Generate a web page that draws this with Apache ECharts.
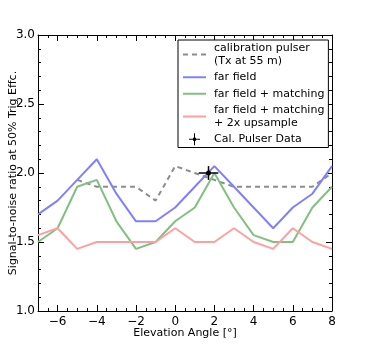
<!DOCTYPE html>
<html>
<head>
<meta charset="utf-8">
<script src="https://cdn.jsdelivr.net/npm/echarts@6/dist/echarts.min.js"></script>
<style>
html, body { margin: 0; padding: 0; background: #fff; }
#main { width: 370px; height: 346px; }
</style>
</head>
<body>
<div id="main"></div>
<script>
// elevation angles (deg) and SNR at 50% trigger efficiency
var angles = [-7, -6, -5, -4, -3, -2, -1, 0, 1, 2, 3, 4, 5, 6, 7, 8];
var farField = [1.7, 1.8, 1.95, 2.1, 1.85, 1.65, 1.65, 1.75, 1.9, 2.05, 1.9, 1.75, 1.6, 1.75, 1.85, 2.05];
var matching = [1.5, 1.6, 1.9, 1.95, 1.65, 1.45, 1.5, 1.65, 1.75, 2.0, 1.75, 1.55, 1.5, 1.5, 1.75, 1.9];
var upsample = [1.55, 1.6, 1.45, 1.5, 1.5, 1.5, 1.5, 1.6, 1.5, 1.5, 1.6, 1.5, 1.45, 1.6, 1.5, 1.45];

var calAngles = [-5, -4, -3, -2, -1, 0, 1, 2, 3, 4, 5, 6, 7, 8];
var calPulser = [1.95, 1.9, 1.9, 1.9, 1.8, 2.05, 2.0, 1.95, 1.9, 1.9, 1.9, 1.9, 1.9, 2.0];

// measured calibration pulser point with error bars
var dataAngle = [1.7];
var dataSnr = [2.0];
var dataAngleErr = [0.5];
var dataSnrErr = [0.05];

var xTicks = [-6, -4, -2, 0, 2, 4, 6, 8];

var names = [
    'calibration pulser\n(Tx at 55 m)',
    'far field',
    'far field + matching',
    'far field + matching\n+ 2x upsample',
    'Cal. Pulser Data'
];

function pairs(xs, ys) {
    return xs.map(function(x, i) { return [x, ys[i]]; });
}

var myChart = echarts.init(document.getElementById('main'));

var font = 'DejaVu Sans';
var black = '#000';

function majorX(pos, labels) {
    return {
        type: 'value', min: -7, max: 8, position: pos,
        axisLine: { show: true, onZero: false, lineStyle: { color: black, width: 1 } },
        splitLine: { show: false },
        axisTick: { show: true, inside: true, length: 6, customValues: xTicks, lineStyle: { color: black } },
        axisLabel: {
            show: labels, customValues: xTicks, color: black, fontSize: 12, fontFamily: font, margin: 5,
            formatter: function(v) { return v < 0 ? '\u2212' + (-v) : String(v); }
        },
        name: labels ? 'Elevation Angle [\u00b0]' : '',
        nameLocation: 'middle', nameGap: 17, nameMoveOverlap: false,
        nameTextStyle: { color: black, fontSize: 11, fontFamily: font, verticalAlign: 'top' }
    };
}
function minorX(pos) {
    return {
        type: 'value', min: -7, max: 8, interval: 0.5, position: pos,
        axisLine: { show: false },
        splitLine: { show: false },
        axisTick: { show: true, inside: true, length: 3, lineStyle: { color: black } },
        axisLabel: { show: false }
    };
}
function yAx(pos, labels) {
    return {
        type: 'value', min: 1, max: 3, interval: 0.5, position: pos,
        axisLine: { show: true, onZero: false, lineStyle: { color: black, width: 1 } },
        splitLine: { show: false },
        axisTick: { show: true, inside: true, length: 6, lineStyle: { color: black } },
        minorTick: { show: true, splitNumber: 5, length: 3, lineStyle: { color: black } },
        axisLabel: {
            show: labels, color: black, fontSize: 12, fontFamily: font, margin: 3,
            formatter: function(v) { return v.toFixed(1); }
        },
        name: labels ? 'Signal-to-noise ratio at 50% Trig Effc.' : '',
        nameLocation: 'middle', nameRotate: 90, nameGap: 19, nameMoveOverlap: false,
        nameTextStyle: { color: black, fontSize: 11, fontFamily: font }
    };
}

var option = {
    animation: false,
    backgroundColor: '#fff',
    grid: { left: 38, right: 38, top: 35, bottom: 35, outerBoundsMode: 'none', containLabel: false },
    legend: {
        orient: 'vertical', left: 178, top: 40,
        backgroundColor: '#fff', borderColor: black, borderWidth: 1, borderRadius: 0,
        padding: [2, 4, 2, 4], itemGap: 4, itemWidth: 23, itemHeight: 12,
        itemStyle: { opacity: 0 },
        textStyle: { color: black, fontSize: 11, fontFamily: font, lineHeight: 12.5, padding: [0, 0, 0, 3] },
        data: [
            { name: names[0] }, { name: names[1] }, { name: names[2] }, { name: names[3] },
            {
                name: names[4], itemStyle: { opacity: 1, color: black },
                icon: 'path://M0,5.5h11v1h-11z M5,0h1v12h-1z M4,4.5h3v3h-3z'
            }
        ]
    },
    xAxis: [majorX('bottom', true), minorX('bottom'), majorX('top', false), minorX('top')],
    yAxis: [yAx('left', true), yAx('right', false)],
    series: [
        {
            name: names[0], type: 'line', data: pairs(calAngles, calPulser), symbol: 'none',
            lineStyle: { color: '#8c8c8c', width: 2, type: [5, 4] }, itemStyle: { color: '#8c8c8c' }
        },
        {
            name: names[1], type: 'line', data: pairs(angles, farField), symbol: 'none',
            lineStyle: { color: '#8080ff', width: 2 }, itemStyle: { color: '#8080ff' }
        },
        {
            name: names[2], type: 'line', data: pairs(angles, matching), symbol: 'none',
            lineStyle: { color: '#80c080', width: 2 }, itemStyle: { color: '#80c080' }
        },
        {
            name: names[3], type: 'line', data: pairs(angles, upsample), symbol: 'none',
            lineStyle: { color: '#ffa0a0', width: 2 }, itemStyle: { color: '#ffa0a0' }
        },
        {
            name: names[4], type: 'custom', itemStyle: { color: black }, z: 5,
            data: dataAngle.map(function(x, i) { return [x, dataSnr[i], dataAngleErr[i], dataSnrErr[i]]; }),
            renderItem: function(params, api) {
                var x = api.value(0), y = api.value(1), xe = api.value(2), ye = api.value(3);
                var l = api.coord([x - xe, y]), r = api.coord([x + xe, y]);
                var t = api.coord([x, y + ye]), b = api.coord([x, y - ye]);
                var c = api.coord([x, y]);
                return {
                    type: 'group',
                    children: [
                        { type: 'line', shape: { x1: l[0], y1: l[1], x2: r[0], y2: r[1] }, style: { stroke: black, lineWidth: 1.5 } },
                        { type: 'line', shape: { x1: t[0], y1: t[1], x2: b[0], y2: b[1] }, style: { stroke: black, lineWidth: 1.5 } },
                        { type: 'circle', shape: { cx: c[0], cy: c[1], r: 2.5 }, style: { fill: black } }
                    ]
                };
            }
        }
    ]
};

myChart.setOption(option);
</script>
</body>
</html>
